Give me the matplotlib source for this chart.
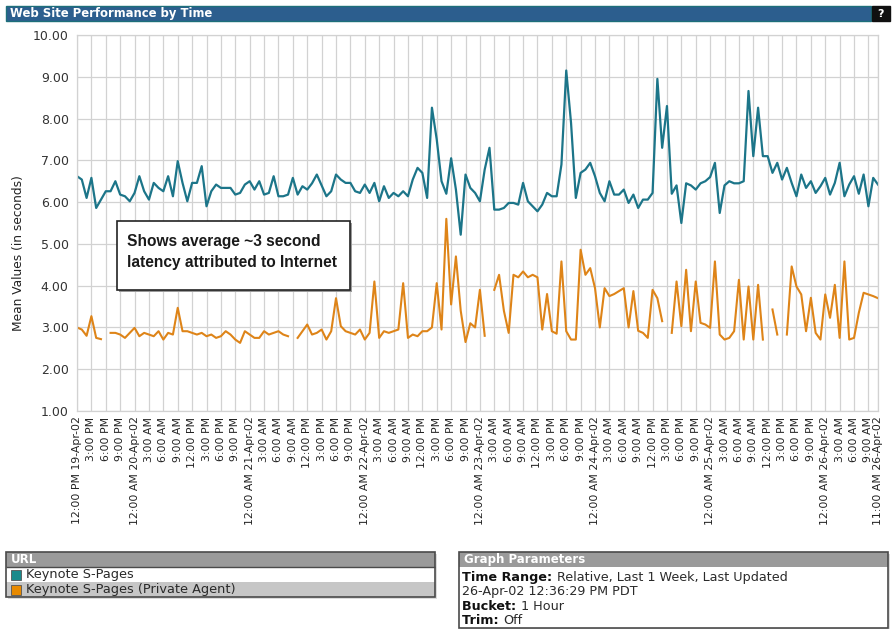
import matplotlib
matplotlib.use('Agg')
import matplotlib.pyplot as plt
from matplotlib.patches import Rectangle
import numpy as np

# ---------------- data ----------------
nan = float('nan')

keynote = [
    6.62, 6.54, 6.10, 6.58, 5.86, 6.06, 6.26, 6.26, 6.50, 6.18,
    6.14, 6.02, 6.22, 6.62, 6.26, 6.06, 6.46, 6.34, 6.26, 6.62,
    6.14, 6.98, 6.46, 6.02, 6.46, 6.46, 6.86, 5.90, 6.26, 6.42,
    6.34, 6.34, 6.34, 6.18, 6.22, 6.42, 6.50, 6.30, 6.50, 6.18,
    6.22, 6.62, 6.14, 6.14, 6.18, 6.58, 6.18, 6.38, 6.30, 6.45,
    6.66, 6.40, 6.14, 6.26, 6.66,
    6.54, 6.46, 6.46, 6.26, 6.22, 6.42, 6.22, 6.46, 6.02, 6.38,
    6.10, 6.22, 6.14, 6.26, 6.14, 6.54, 6.82, 6.70, 6.10, 8.26,
    7.50, 6.50, 6.20, 7.05, 6.30, 5.22, 6.66, 6.34, 6.22, 6.02,
    6.78, 7.30, 5.82, 5.82, 5.86, 5.98, 5.98, 5.94, 6.46, 6.02,
    5.90, 5.78, 5.94, 6.22, 6.14, 6.14, 6.90, 9.15, 7.90, 6.10,
    6.70, 6.78, 6.94, 6.62, 6.22, 6.02, 6.50, 6.18, 6.18, 6.30,
    5.98, 6.18, 5.86, 6.06, 6.06, 6.22, 8.95, 7.30, 8.30, 6.20,
    6.40, 5.50, 6.45, 6.40, 6.30, 6.45, 6.50, 6.60, 6.94, 5.74,
    6.40, 6.50, 6.45, 6.45, 6.50, 8.66, 7.10, 8.26,
    7.10, 7.10, 6.70, 6.94, 6.54, 6.82, 6.46, 6.14, 6.66, 6.34,
    6.50, 6.22, 6.38, 6.58, 6.18, 6.46, 6.94, 6.14, 6.42, 6.62,
    6.20, 6.66, 5.90, 6.58, 6.42,
]

private_agent = [
    3.00, 2.95, 2.80, 3.27, 2.75, 2.72,
    nan,
    2.87, 2.87, 2.83, 2.75, 2.87, 2.99, 2.79, 2.87, 2.83, 2.79,
    2.91, 2.71, 2.87, 2.83, 3.47, 2.91, 2.91, 2.87, 2.83, 2.87,
    2.79, 2.83, 2.75, 2.79, 2.91, 2.83, 2.71, 2.63, 2.91, 2.83,
    2.75, 2.75, 2.91, 2.83, 2.87, 2.91, 2.83, 2.79,
    nan,
    2.75, 2.91, 3.07, 2.83, 2.87, 2.95, 2.71, 2.91, 3.70,
    3.03, 2.91, 2.87, 2.83, 2.95, 2.71, 2.87, 4.10, 2.75, 2.91,
    2.87, 2.91, 2.95, 4.06, 2.75, 2.83, 2.79, 2.91, 2.91, 3.00,
    4.06, 2.95, 5.60, 3.55, 4.70, 3.40, 2.65, 3.10, 3.00, 3.90, 2.80,
    nan,
    3.90, 4.26, 3.40, 2.87, 4.26, 4.20, 4.34, 4.20, 4.26, 4.20,
    2.95, 3.80, 2.91, 2.85, 4.58, 2.91, 2.71, 2.71, 4.86, 4.26,
    4.42, 3.94, 3.00, 3.94, 3.75, 3.80, 3.87, 3.94, 3.00, 3.87,
    2.92, 2.87, 2.75, 3.90, 3.70, 3.15,
    nan,
    2.87, 4.10, 3.03, 4.38, 2.91, 4.10, 3.11, 3.07, 2.99, 4.58,
    2.83, 2.71, 2.75, 2.91, 4.14, 2.71, 3.98, 2.71, 4.02, 2.71,
    nan,
    3.43, 2.83,
    nan,
    2.83, 4.46, 3.98, 3.79, 2.91, 3.71, 2.87, 2.71, 3.79, 3.23,
    4.02, 2.75, 4.58, 2.71, 2.75, 3.35, 3.83, 3.79, 3.75, 3.70,
]

hours = list(range(len(keynote)))   # hourly buckets, 12:00 PM 19-Apr-02 .. 11:00 AM 26-Apr-02

day_block = ["3:00 AM", "6:00 AM", "9:00 AM", "12:00 PM", "3:00 PM", "6:00 PM", "9:00 PM"]
tick_labels = ["12:00 PM 19-Apr-02", "3:00 PM", "6:00 PM", "9:00 PM"]
for d in ["20", "21", "22", "23", "24", "25"]:
    tick_labels += ["12:00 AM %s-Apr-02" % d] + day_block
tick_labels += ["12:00 AM 26-Apr-02", "3:00 AM", "6:00 AM", "9:00 AM", "11:00 AM 26-Apr-02"]
tick_hours = list(range(0, 166, 3)) + [167]

y_ticks = [1, 2, 3, 4, 5, 6, 7, 8, 9, 10]

series_names = ["Keynote S-Pages", "Keynote S-Pages (Private Agent)"]
series_colors = ["#1c7589", "#de8418"]
swatch_colors = ["#1a8a8c", "#e88a00"]

# ---------------- figure ----------------
W, H = 895, 629
fig = plt.figure(figsize=(W / 100, H / 100), dpi=100)
fig.patch.set_facecolor('white')
plt.rcParams['font.family'] = ['DejaVu Sans']


def fx(px):
    return px / W


def fy(py):
    return 1 - py / H


def frect(x0, y0, x1, y1, **kw):
    r = Rectangle((fx(x0), fy(y1)), fx(x1) - fx(x0), fy(y0) - fy(y1),
                  transform=fig.transFigure, figure=fig, **kw)
    fig.patches.append(r)
    return r


# title bar
frect(6, 6, 871, 21, facecolor='#2c5e8e', edgecolor='#1d6f7a', lw=1.0)
frect(872, 6, 890, 21, facecolor='#101010', edgecolor='#101010', lw=1.0)
fig.text(fx(10), fy(14), "Web Site Performance by Time", color='white',
         fontsize=8.4, fontweight='bold', ha='left', va='center')
fig.text(fx(881), fy(14), "?", color='white', fontsize=8, fontweight='bold',
         ha='center', va='center')

# plot area
ax = fig.add_axes([fx(77), fy(411), fx(878) - fx(77), fy(35) - fy(411)])
ax.set_xlim(0, 167)
ax.set_ylim(1, 10)
ax.set_yticks(y_ticks)
ax.set_yticklabels(["%.2f" % v for v in y_ticks])
ax.set_xticks(tick_hours)
ax.set_xticklabels(tick_labels, rotation=90, ha='center', va='top')
ax.grid(True, color='#d2d2d2', lw=0.9)
ax.set_axisbelow(True)
for s in ax.spines.values():
    s.set_color('#d2d2d2')
    s.set_linewidth(0.9)
ax.tick_params(axis='both', length=0)
ax.tick_params(axis='y', labelsize=9, colors='#333333', pad=6)
ax.tick_params(axis='x', labelsize=7.8, colors='#222222', pad=4)

ax.plot(hours, keynote, color=series_colors[0], lw=1.6, solid_joinstyle='round')
ax.plot(hours, private_agent, color=series_colors[1], lw=1.5, solid_joinstyle='round')

fig.text(fx(19), fy(253), "Mean Values (in seconds)", rotation=90, fontsize=8.8,
         color='#222222', ha='center', va='center')

# annotation box
frect(119, 223, 352, 292, facecolor='#9a9a9a', edgecolor='none')
frect(117, 221, 350, 290, facecolor='white', edgecolor='#222222', lw=1.2)
fig.text(fx(127), fy(242), "Shows average ~3 second", fontsize=11.2,
         fontweight='bold', family=['Liberation Sans', 'DejaVu Sans'],
         color='#1a1a1a', ha='left', va='center')
fig.text(fx(127), fy(263), "latency attributed to Internet", fontsize=11.2,
         fontweight='bold', family=['Liberation Sans', 'DejaVu Sans'],
         color='#1a1a1a', ha='left', va='center')

# legend box (URL)
frect(8, 554, 437, 599, facecolor='#dcdcdc', edgecolor='none')
frect(6, 552, 435, 567, facecolor='#9a9a9a', edgecolor='none')
frect(6, 567, 435, 582, facecolor='white', edgecolor='none')
frect(6, 582, 435, 597, facecolor='#c6c6c6', edgecolor='none')
frect(6, 552, 435, 597, facecolor='none', edgecolor='#4a4a4a', lw=1.2)
frect(6, 567, 435, 567.01, facecolor='none', edgecolor='#4a4a4a', lw=1.0)
fig.text(fx(11), fy(559.5), "URL", color='white', fontsize=8.5,
         fontweight='bold', ha='left', va='center')
for i, (name, c) in enumerate(zip(series_names, swatch_colors)):
    yc = 574.5 + 15 * i
    frect(11, yc - 5, 21, yc + 5, facecolor=c, edgecolor='#555555', lw=0.6)
    fig.text(fx(26), fy(yc), name, fontsize=9.3, color='#2a2a2a',
             ha='left', va='center')

# graph parameters box
frect(461, 554, 890, 630, facecolor='#dcdcdc', edgecolor='none')
frect(459, 552, 888, 567, facecolor='#9a9a9a', edgecolor='none')
frect(459, 567, 888, 628, facecolor='white', edgecolor='none')
frect(459, 552, 888, 628, facecolor='none', edgecolor='#4a4a4a', lw=1.2)
fig.text(fx(464), fy(559.5), "Graph Parameters", color='white', fontsize=8.5,
         fontweight='bold', ha='left', va='center')

renderer = fig.canvas.get_renderer()
param_lines = [("Time Range: ", "Relative, Last 1 Week, Last Updated"),
               ("", "26-Apr-02 12:36:29 PM PDT"),
               ("Bucket: ", "1 Hour"),
               ("Trim: ", "Off")]
for i, (b, r) in enumerate(param_lines):
    yc = 578 + 14 * i
    x0 = 462
    if b:
        t = fig.text(fx(x0), fy(yc), b, fontsize=9.2, fontweight='bold',
                     color='#111111', ha='left', va='center')
        x0 += t.get_window_extent(renderer=renderer).width
    fig.text(fx(x0), fy(yc), r, fontsize=9.2, color='#2a2a2a',
             ha='left', va='center')

fig.savefig('out.png', dpi=100, facecolor='white')
